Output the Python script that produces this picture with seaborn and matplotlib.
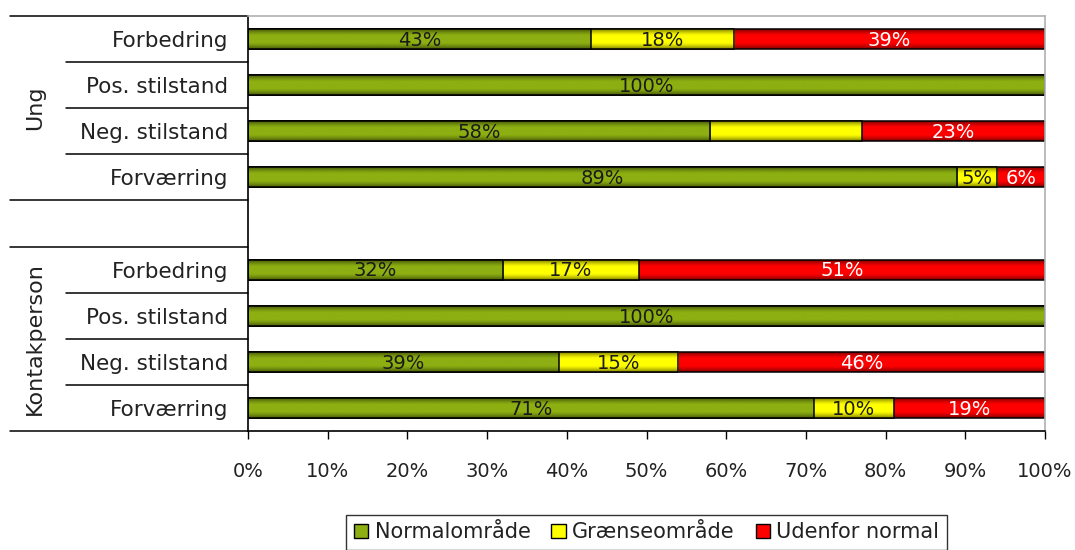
import numpy as np
import pandas as pd
import matplotlib
matplotlib.use("Agg")
import matplotlib.pyplot as plt
import matplotlib.colors as mcolors
import matplotlib.transforms as mtransforms
from matplotlib.patches import Patch
import seaborn as sns

# ---- data -------------------------------------------------------------
groups = ["Ung", "Kontakperson"]
categories = ["Forbedring", "Pos. stilstand", "Neg. stilstand", "Forværring"]
series = ["Normalområde", "Grænseområde", "Udenfor normal"]

normal_ung = [43, 100, 58, 89]
graense_ung = [18, 0, 19, 5]
udenfor_ung = [39, 0, 23, 6]

normal_kp = [32, 100, 39, 71]
graense_kp = [17, 0, 15, 10]
udenfor_kp = [51, 0, 46, 19]

# segments whose value label is not printed
hidden_labels = [("Ung", "Neg. stilstand", "Grænseområde")]

colors = {"Normalområde": "#8DAF12", "Grænseområde": "#FFFF00", "Udenfor normal": "#FF0000"}
text_colors = {"Normalområde": "#1a1a1a", "Grænseområde": "#1a1a1a", "Udenfor normal": "white"}

# ---- long table with cumulative ends ------------------------------------
values = {
    "Ung": [normal_ung, graense_ung, udenfor_ung],
    "Kontakperson": [normal_kp, graense_kp, udenfor_kp],
}
records = []
for g in groups:
    for ci, c in enumerate(categories):
        start = 0
        for si, s in enumerate(series):
            v = values[g][si][ci]
            records.append(dict(group=g, category=c, row=f"{g}: {c}", series=s,
                                value=v, start=start, end=start + v))
            start += v
df = pd.DataFrame(records)

spacer = "spacer"
order = [f"Ung: {c}" for c in categories] + [spacer] + [f"Kontakperson: {c}" for c in categories]
tick_names = categories + [""] + categories

# ---- figure -------------------------------------------------------------
sns.set_theme(style="white")
plt.rcParams["font.family"] = ["DejaVu Sans"]

fig = plt.figure(figsize=(10.75, 5.5), dpi=100)
ax = fig.add_axes([248 / 1075, 1 - 431 / 550, 797 / 1075, 415 / 550])


def shaded(color, n=64):
    """Vertical colour ramp: darker rim at top and bottom, full colour in the middle."""
    base = np.array(mcolors.to_rgb(color))
    t = np.linspace(-1, 1, n)
    k = 1 - 0.5 * np.clip((np.abs(t) - 0.35) / 0.65, 0, 1) ** 1.4
    return (base[None, :] * k[:, None])[:, None, :]


# draw the running totals back to front so each segment sits on the previous one
z = 1.0
for s in reversed(series):
    sub = df[df["series"] == s]
    n_before = len(ax.patches)
    sns.barplot(data=sub, x="end", y="row", order=order, orient="h",
                color=colors[s], width=0.43, edgecolor="black", linewidth=1.1,
                saturation=1, errorbar=None, ax=ax)
    for p in ax.patches[n_before:]:
        x0, y0, w, h = p.get_x(), p.get_y(), p.get_width(), p.get_height()
        if w <= 0 or np.isnan(w):
            continue
        im = ax.imshow(shaded(colors[s]), extent=(x0, x0 + w, y0 + h, y0),
                       aspect="auto", interpolation="bilinear", zorder=z)
        im.set_clip_path(p)
        p.set_facecolor("none")
        p.set_zorder(z + 0.05)
    z += 0.1

ax.set_xlim(0, 100)
ax.set_ylim(len(order) - 0.5, -0.5)

# value labels centred in each segment
for _, r in df.iterrows():
    if r["value"] <= 0:
        continue
    if (r["group"], r["category"], r["series"]) in hidden_labels:
        continue
    yi = order.index(r["row"])
    ax.text((r["start"] + r["end"]) / 2, yi + 0.03, f"{r['value']}%",
            ha="center", va="center", fontsize=14, color=text_colors[r["series"]],
            zorder=5)

# axes styling
ax.set_xlabel("")
ax.set_ylabel("")
ax.set_xticks(np.arange(0, 101, 10))
ax.set_xticklabels([f"{v}%" for v in range(0, 101, 10)], fontsize=14, color="#222222")
ax.tick_params(axis="x", length=6, width=1, color="black", direction="out", pad=16, bottom=True)
ax.set_yticks(range(len(order)))
ax.set_yticklabels(tick_names, fontsize=15.5, color="#222222")
ax.tick_params(axis="y", length=0, pad=14)
for side, col in [("left", "black"), ("bottom", "black"), ("top", "#b0b0b0"), ("right", "#b0b0b0")]:
    ax.spines[side].set_visible(True)
    ax.spines[side].set_color(col)
    ax.spines[side].set_linewidth(1.2)

# two-level category axis: divider lines and group names
trans = mtransforms.blended_transform_factory(ax.transAxes, ax.transData)
outer_x = (10 - 248) / 797
inner_x = (66 - 248) / 797
for yb in [-0.5, 3.5, 4.5, 8.5]:
    ax.plot([outer_x, 0], [yb, yb], transform=trans, color="black", lw=1.1, clip_on=False)
for yb in [0.5, 1.5, 2.5, 5.5, 6.5, 7.5]:
    ax.plot([inner_x, 0], [yb, yb], transform=trans, color="black", lw=1.1, clip_on=False)
group_x = (35 - 248) / 797
ax.text(group_x, 1.5, groups[0], transform=trans, rotation=90, ha="center", va="center",
        fontsize=16, color="#222222")
ax.text(group_x, 6.5, groups[1], transform=trans, rotation=90, ha="center", va="center",
        fontsize=16, color="#222222")

# legend below the plot
handles = [Patch(facecolor=colors[s], edgecolor="black", linewidth=1.0, label=s) for s in series]
leg = ax.legend(handles=handles, loc="upper center", bbox_to_anchor=(0.5, (431 - 515) / 415),
                ncol=3, frameon=True, fontsize=15, handlelength=0.7, handleheight=0.7,
                handletextpad=0.3, columnspacing=1.0, borderpad=0.35, borderaxespad=0,
                fancybox=False)
leg.get_frame().set_edgecolor("black")
leg.get_frame().set_linewidth(1.0)
for t in leg.get_texts():
    t.set_color("#222222")

fig.savefig("out.png", dpi=100)
